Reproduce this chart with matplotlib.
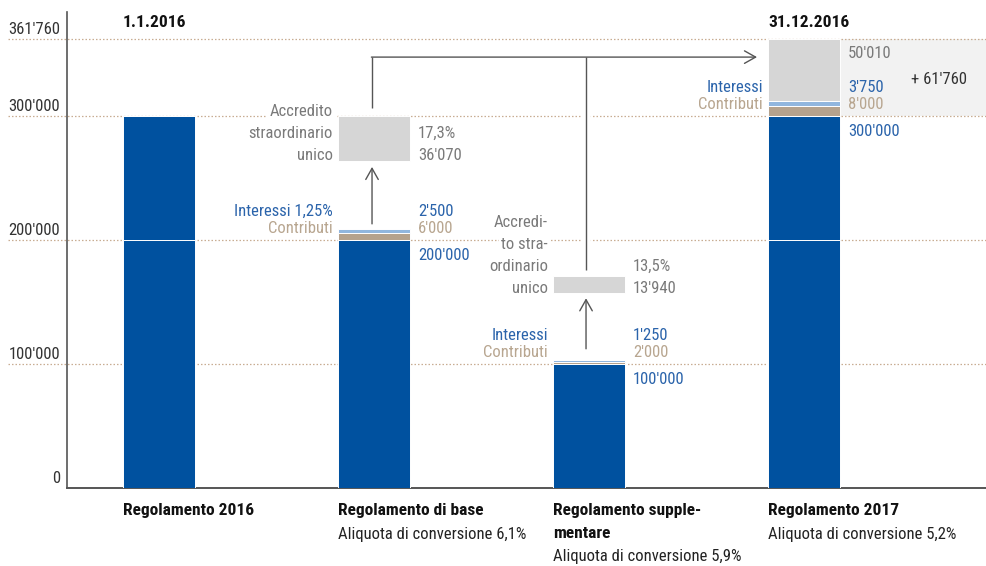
import matplotlib
matplotlib.use("Agg")
import matplotlib.pyplot as plt
import matplotlib.transforms as mtrans
import matplotlib.patheffects as pe
from matplotlib import font_manager

# ====== data ======
categories = ["Regolamento 2016", "Regolamento di base", "Regolamento supple-\nmentare", "Regolamento 2017"]
subtitles = ["", "Aliquota di conversione 6,1%", "Aliquota di conversione 5,9%", "Aliquota di conversione 5,2%"]
headers = ["1.1.2016", "", "", "31.12.2016"]
blue_low = [200000, 200000, 100000, 200000]
blue_high = [100000, 0, 0, 100000]
contributi = [0, 6000, 2000, 8000]
interessi = [0, 2500, 1250, 3750]
accredito = [0, 36070, 13940, 50010]
accredito_pct = ["", "17,3%", "13,5%", ""]
interessi_lbl = ["", "Interessi 1,25%", "Interessi", "Interessi"]
accredito_lbl = ["", ["Accredito", "straordinario", "unico"],
                 ["Accredi-", "to stra-", "ordinario", "unico"], ""]
y_ticks = [0, 100000, 200000, 300000, 361760]
gain = 61760

# ====== style ======
names = {f.name for f in font_manager.fontManager.ttflist}
fam = "DejaVu Sans"
for cand in ["Liberation Sans Narrow", "Roboto Condensed", "Open Sans Condensed", "Roboto"]:
    if cand in names:
        fam = cand
        break
plt.rcParams["font.family"] = [fam, "DejaVu Sans"]

BLUE = "#00519f"
LBLUE = "#91b6de"
TAN = "#b5a28d"
BOX = "#d6d6d6"
T_BLUE = "#2b64ab"
T_TAN = "#b8a690"
T_GREY = "#7a7a7a"
GRID = "#c8ad92"
LINE = "#555555"
FS = 12
FSB = 12.5

fig = plt.figure(figsize=(9.87, 5.66), dpi=100)
ax = fig.add_axes([67 / 987, (566 - 488) / 566, 920 / 987, (488 - 12) / 566])
ax.set_xlim(-0.428, 3.851)
ax.set_ylim(0, 383871)
ax.set_xticks([])
ax.set_yticks([])
for s in ["top", "right"]:
    ax.spines[s].set_visible(False)
ax.spines["left"].set_color(LINE)
ax.spines["bottom"].set_color(LINE)
ax.spines["left"].set_linewidth(1.2)
ax.spines["bottom"].set_linewidth(1.4)


def off(dx, dy):
    # offset in screen pixels (dy positive = downwards)
    return mtrans.offset_copy(ax.transData, fig=fig, x=dx, y=-dy, units="dots")


def fmt(v):
    return f"{v:,}".replace(",", "'")


w = 0.335
xs = list(range(len(categories)))
half = w / 2

# gridlines with labels above them
for v in y_ticks:
    if v > 0:
        ax.axhline(v, xmin=-0.064, xmax=1, clip_on=False, color=GRID,
                   ls=(0, (1.2, 1.6)), lw=0.9, zorder=1)
    ax.text(-0.0076, v, fmt(v), ha="right", va="bottom",
            fontsize=FS, color="#333333",
            transform=mtrans.offset_copy(ax.get_yaxis_transform(), fig=fig, y=2, units="dots"))

# light background for the increase
top = blue_low[3] + blue_high[3] + contributi[3] + interessi[3] + accredito[3]
ax.fill_between([3 + half, 3.851], 300000, top, color="#f2f2f2", zorder=0.5, lw=0)
ax.text(3 + half, (300000 + top) / 2, "+ " + fmt(gain),
        transform=off(99, 2), ha="center", va="center", fontsize=FS, color="#333333")

# bars
ek = dict(edgecolor="white", linewidth=0.7, zorder=3)
ax.bar(xs, blue_low, w, color=BLUE, **ek)
b1 = [a for a in blue_low]
ax.bar(xs, blue_high, w, bottom=b1, color=BLUE, **ek)
b2 = [a + b for a, b in zip(blue_low, blue_high)]
ax.bar(xs, contributi, w, bottom=b2, color=TAN, **ek)
b3 = [a + b for a, b in zip(b2, contributi)]
ax.bar(xs, interessi, w, bottom=b3, color=LBLUE, **ek)
b4 = [a + b for a, b in zip(b3, interessi)]

# accredito boxes: floating for base/supplement, stacked for 2017
acc_bottom = [0, 300000 - accredito[1], 157000, b4[3]]
ax.bar(xs, accredito, w, bottom=acc_bottom, color=BOX, **ek)

# value labels
for i in xs:
    if i == 0:
        continue
    bt = b2[i]
    ax.text(i + half, bt, fmt(bt), transform=off(8, 15),
            ha="left", va="center", fontsize=FS, color=T_BLUE)
    ax.text(i + half, bt, fmt(contributi[i]), transform=off(8, -12),
            ha="left", va="center", fontsize=FS, color=T_TAN)
    ax.text(i + half, bt, fmt(interessi[i]), transform=off(8, -29),
            ha="left", va="center", fontsize=FS, color=T_BLUE)
    ax.text(i - half, bt, "Contributi", transform=off(-5, -12),
            ha="right", va="center", fontsize=FS, color=T_TAN)
    ax.text(i - half, bt, interessi_lbl[i], transform=off(-5, -29),
            ha="right", va="center", fontsize=FS, color=T_BLUE)
    if i == 3:
        ax.text(i + half, acc_bottom[i] + accredito[i], fmt(accredito[i]), transform=off(8, 14),
                ha="left", va="center", fontsize=FS, color=T_GREY)
    else:
        yb = acc_bottom[i]
        ax.text(i + half, yb, fmt(accredito[i]), transform=off(8, -5),
                ha="left", va="center", fontsize=FS, color=T_GREY)
        ax.text(i + half, yb, accredito_pct[i], transform=off(8, -27),
                ha="left", va="center", fontsize=FS, color=T_GREY)
        lines = accredito_lbl[i]
        for k, ln in enumerate(reversed(lines)):
            ax.text(i - half, yb, ln, transform=off(-5, -5 - 22 * k),
                    ha="right", va="center", fontsize=FS, color=T_GREY, zorder=4,
                    bbox=dict(boxstyle="square,pad=0.15", fc="white", ec="none"))

# arrows / connectors
arr = dict(arrowstyle="->,head_length=0.8,head_width=0.45", color=LINE, lw=1.0,
           shrinkA=0, shrinkB=0, mutation_scale=10)
x_base = 1 - 2 / 215
x_sup = 2 - 3 / 215
y_conn = 347500
ax.annotate("", xy=(x_base, acc_bottom[1] - 5000), xytext=(x_base, b4[1] + 4500),
            arrowprops=arr, zorder=5)
ax.annotate("", xy=(x_sup, acc_bottom[2] - 4000), xytext=(x_sup, b4[2] + 9000),
            arrowprops=arr, zorder=5)
ax.plot([x_sup, x_sup], [y_conn, acc_bottom[2] + accredito[2] + 4500], color=LINE, lw=1.0,
        zorder=5, solid_capstyle="butt",
        path_effects=[pe.Stroke(linewidth=7, foreground="white"), pe.Normal()])
ax.plot([x_base, x_base], [acc_bottom[1] + accredito[1] + 6500, y_conn], color=LINE, lw=1.0,
        zorder=6, solid_capstyle="butt")
ax.annotate("", xy=(3 - half - 11 / 215, y_conn), xytext=(x_base - 0.003, y_conn),
            arrowprops=arr, zorder=6)

# headers and category labels
for i in xs:
    if headers[i]:
        ax.text(i - half, y_ticks[-1], headers[i], transform=off(0, -17), ha="left",
                va="center", fontsize=FSB, fontweight="bold", color="#111111")
    lines = categories[i].split("\n")
    for k, ln in enumerate(lines):
        ax.text(i - half, 0, ln, transform=off(0, 22 + 23 * k), ha="left", va="center",
                fontsize=FSB, fontweight="bold", color="#111111", clip_on=False)
    if subtitles[i]:
        ax.text(i - half, 0, subtitles[i], transform=off(0, 46 + 23 * (len(lines) - 1)),
                ha="left", va="center", fontsize=FS, color="#222222", clip_on=False)

fig.savefig("out.png", dpi=100)
